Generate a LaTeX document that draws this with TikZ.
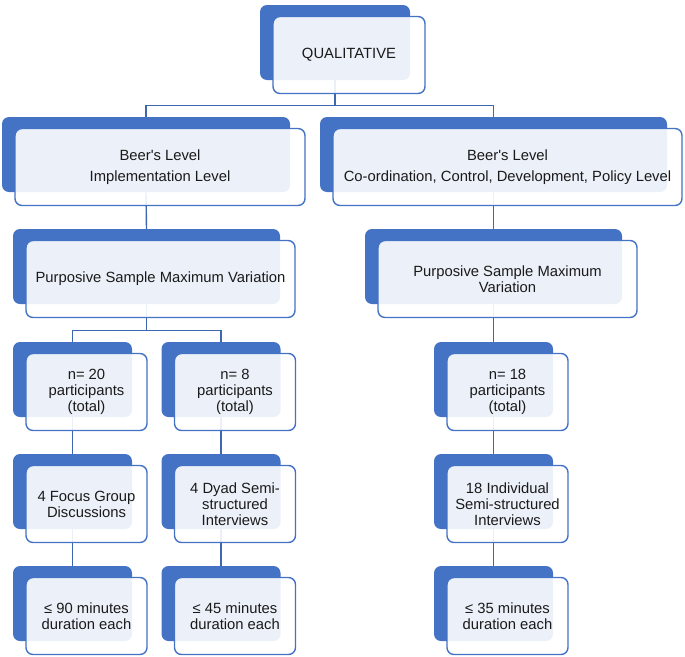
\documentclass[tikz,border=0pt]{standalone}
\usepackage{fontspec}
\newfontfamily\boxfont{Liberation Sans}
\usetikzlibrary{positioning}
\definecolor{boxblue}{HTML}{4472C4}
\definecolor{txtgray}{HTML}{1A1A1A}
\pgfdeclarelayer{background}
\pgfsetlayers{background,main}

\begin{document}
\begin{tikzpicture}[x=1pt, y=-1pt,
  backbox/.style={fill=boxblue, rounded corners=7pt, minimum height=75pt, inner sep=0pt},
  frontbox/.style={draw=boxblue, line width=1.4pt, fill=white, fill opacity=0.9, text opacity=1,
    rounded corners=7pt, minimum height=77pt, inner sep=0pt, align=center, text=txtgray,
    font=\boxfont\fontsize{14.8}{16}\selectfont},
  conn/.style={draw=boxblue!90!black, line width=1.4pt}]
\useasboundingbox (0,0) rectangle (685,656);
% Top of the tree
\node[backbox, minimum width=150pt] (qual) at (335,42.5) {};
\node[frontbox, minimum width=152pt] (qualF) at ([shift={(14,12.5)}]qual) {\raisebox{-3pt}{QUALITATIVE}};
% Beer's levels
\node[backbox, minimum width=288pt] (beerL) at (146,154.5) {};
\node[frontbox, minimum width=290pt] (beerLF) at ([shift={(14,12.5)}]beerL) {Beer's Level\\[5pt]Implementation Level};
\node[backbox, minimum width=347pt] (beerR) at (493.5,154.5) {};
\node[frontbox, minimum width=349pt] (beerRF) at ([shift={(14,12.5)}]beerR) {Beer's Level\\[5pt]Co-ordination, Control, Development, Policy Level};
% Sampling
\node[backbox, minimum width=267pt] (purpL) at (146.5,266.5) {};
\node[frontbox, minimum width=269pt] (purpLF) at ([shift={(14,12.5)}]purpL) {Purposive Sample Maximum Variation};
\node[backbox, minimum width=257pt] (purpR) at (493.5,266.5) {};
\node[frontbox, minimum width=259pt] (purpRF) at ([shift={(14,12.5)}]purpR) {Purposive Sample Maximum\\Variation};
% Participants
\node[backbox, minimum width=119pt] (nL) at (72.5,379.5) {};
\node[frontbox, minimum width=121pt] (nLF) at ([shift={(14,12.5)}]nL) {n= 20\\participants\\(total)};
\node[backbox, minimum width=119pt] (nM) at (221,379.5) {};
\node[frontbox, minimum width=121pt] (nMF) at ([shift={(14,12.5)}]nM) {n= 8\\participants\\(total)};
\node[backbox, minimum width=119pt] (nR) at (493.5,379.5) {};
\node[frontbox, minimum width=121pt] (nRF) at ([shift={(14,12.5)}]nR) {n= 18\\participants\\(total)};
% Methods
\node[backbox, minimum width=119pt] (focus) at (72.5,491.5) {};
\node[frontbox, minimum width=121pt] (focusF) at ([shift={(14,12.5)}]focus) {4 Focus Group\\Discussions};
\node[backbox, minimum width=119pt] (dyad) at (221,491.5) {};
\node[frontbox, minimum width=121pt] (dyadF) at ([shift={(14,12.5)}]dyad) {4 Dyad Semi-\\structured\\Interviews};
\node[backbox, minimum width=119pt] (indiv) at (493.5,491.5) {};
\node[frontbox, minimum width=121pt] (indivF) at ([shift={(14,12.5)}]indiv) {18 Individual\\Semi-structured\\Interviews};
% Durations
\node[backbox, minimum width=119pt] (durL) at (72.5,603.5) {};
\node[frontbox, minimum width=121pt] (durLF) at ([shift={(14,12.5)}]durL) {≤ 90 minutes\\duration each};
\node[backbox, minimum width=119pt] (durM) at (221,603.5) {};
\node[frontbox, minimum width=121pt] (durMF) at ([shift={(14,12.5)}]durM) {≤ 45 minutes\\duration each};
\node[backbox, minimum width=119pt] (durR) at (493.5,603.5) {};
\node[frontbox, minimum width=121pt] (durRF) at ([shift={(14,12.5)}]durR) {≤ 35 minutes\\duration each};
% Connectors, under the boxes
\begin{pgfonlayer}{background}
\draw[conn] (qual.south) -- ++(0,25) -| (beerL.north);
\draw[conn] (qual.south) -- ++(0,25) -| (beerR.north);
\draw[conn] (beerL.south) -- (purpL.north);
\draw[conn] (beerR.south) -- (purpR.north);
\draw[conn] (purpL.south) -- ++(0,26) -| (nL.north);
\draw[conn] (purpL.south) -- ++(0,26) -| (nM.north);
\draw[conn] (purpR.south) -- (nR.north);
\draw[conn] (nL.south) -- (focus.north);
\draw[conn] (nM.south) -- (dyad.north);
\draw[conn] (nR.south) -- (indiv.north);
\draw[conn] (focus.south) -- (durL.north);
\draw[conn] (dyad.south) -- (durM.north);
\draw[conn] (indiv.south) -- (durR.north);
\end{pgfonlayer}
\end{tikzpicture}
\end{document}
